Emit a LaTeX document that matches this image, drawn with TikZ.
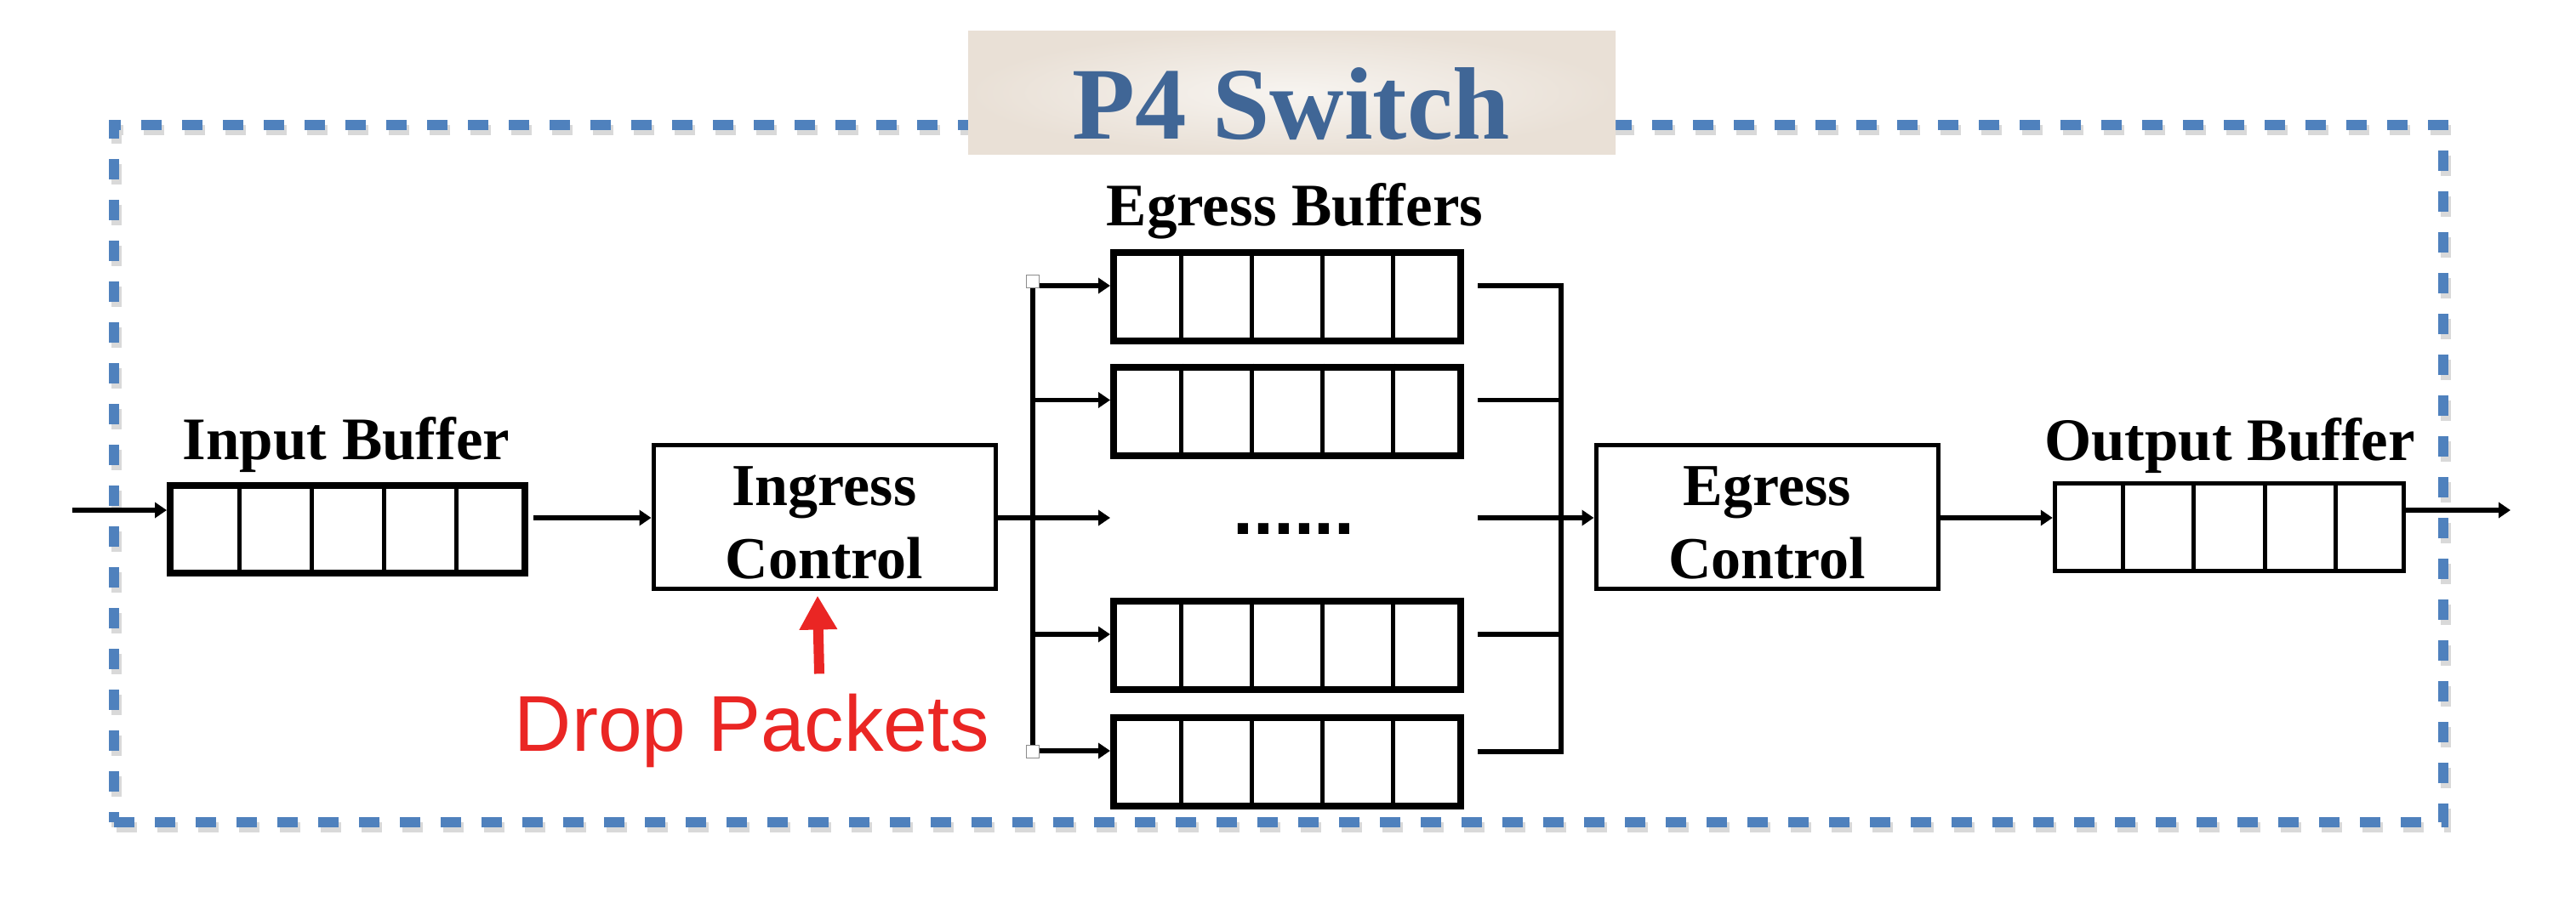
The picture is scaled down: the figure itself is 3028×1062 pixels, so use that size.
\documentclass[tikz,border=0pt]{standalone}
\usepackage{fontspec}
\setmainfont{Liberation Serif}
\newfontfamily\sansf{Liberation Sans}
\usetikzlibrary{calc,arrows.meta}
\definecolor{frameblue}{RGB}{79,129,189}
\definecolor{titleblue}{RGB}{64,102,150}
\definecolor{dropred}{RGB}{234,38,36}
\definecolor{parchin}{RGB}{247,244,240}
\definecolor{parchout}{RGB}{233,224,214}
\tikzset{
  conn/.style={line width=5.5pt, draw=black},
  arr/.style={conn, -{Triangle[length=14pt,width=18pt]}},
  thickbuf/.style={draw, line width=8pt, inner sep=0pt, minimum width=408pt, minimum height=104pt},
  thinbuf/.style={draw, line width=5.5pt, inner sep=0pt, minimum width=410pt, minimum height=103pt},
  ctrlbox/.style={draw, line width=5pt, inner sep=0pt, minimum width=402pt, minimum height=169pt},
  ctrltext/.style={align=center, inner sep=0pt, font=\fontsize{70}{86}\selectfont\bfseries},
  lbl/.style={font=\fontsize{71}{86}\selectfont\bfseries, anchor=base, inner sep=0pt},
  handle/.style={draw=black!45, fill=white, line width=1pt, minimum size=15pt, inner sep=0pt},
  framebox/.style={line width=12pt, dash pattern=on 24pt off 24pt, inner sep=0pt, minimum width=2738pt, minimum height=820pt},
  redarrow/.style={draw=dropred, line width=12pt, -{Triangle[length=40pt,width=42pt]}},
}
\newcommand\qcells[2]{\foreach \i in {1,...,4}{\draw[line width=#2] ($(#1.north west)!\i/5!(#1.north east)$) -- ($(#1.south west)!\i/5!(#1.south east)$);}}
\begin{document}
\begin{tikzpicture}[x=1pt,y=-1pt]
\useasboundingbox (0,0) rectangle (3028,1062);
% frame with soft shadow
\node[framebox, draw=black, opacity=0.15] (frameshadow) at (1506,563) {};
\node[framebox, draw=frameblue] (frame) at (1503,557) {};
% title
\node[minimum width=761pt, minimum height=144pt, inner sep=0pt, inner color=parchin, outer color=parchout, shade] (title) at (1518.5,109) {};
\node[anchor=base, inner sep=0pt, text=titleblue, font=\fontsize{121}{130}\selectfont\bfseries] (titletext) at (1518,164) {P4 Switch};
% labels
\node[lbl] (inlbl) at (407,540) {Input Buffer};
\node[lbl] (outlbl) at (2621,541) {Output Buffer};
\node[lbl] (eglbl) at (1522,265) {Egress Buffers};
% buffers
\node[thickbuf, minimum width=417pt, minimum height=103pt] (inbuf) at (408.5,622.5) {};
\qcells{inbuf}{5pt}
\node[thickbuf] (eb1) at (1513,349) {};
\node[thickbuf] (eb2) at (1513,483.5) {};
\node[thickbuf] (eb3) at (1513,759) {};
\node[thickbuf] (eb4) at (1513,896) {};
\foreach \b in {eb1,eb2,eb3,eb4}{\qcells{\b}{5pt}}
\node[thinbuf] (outbuf) at (2620.5,620) {};
\qcells{outbuf}{5pt}
\node[font=\sansf\bfseries\fontsize{86}{90}\selectfont, anchor=base, inner sep=0pt] (dots) at (1521,628) {......};
% control boxes
\node[ctrlbox] (ing) at (969,607.5) {};
\node[ctrltext] (ingtext) at ($(ing.center)+(0,7)$) {Ingress\\Control};
\node[ctrlbox] (egc) at (2077,607.5) {};
\node[ctrltext] (egctext) at ($(egc.center)+(0,7)$) {Egress\\Control};
% levels
\coordinate (mid) at (0,609);
\coordinate (src) at (85,600);
\coordinate (sink) at (2951,600);
\coordinate (bt) at (1214,331);
\coordinate (bb) at ($(eb4.west)+(-91,-12)$);
\coordinate (rbt) at ($(eb1.east)+(114,-13)$);
\coordinate (rbb) at ($(eb4.east)+(114,-12)$);
% connectors
\draw[arr] (src) -- (inbuf.west |- src);
\draw[arr] ($(inbuf.east |- mid)+(6,0)$) -- (ing.west |- mid);
\draw[arr] (ing.east |- mid) -- (eb1.west |- mid);
\draw[conn] (bt) -- (bb);
\foreach \b in {eb1,eb2,eb3,eb4}{\draw[arr] ($(bt |- \b.west)+(0,-13)$) -- ($(\b.west)+(0,-13)$);}
\draw[conn, line join=miter] ($(eb1.east)+(16,-13)$) -- (rbt) -- (rbb) -- ($(eb4.east)+(16,-12)$);
\foreach \b in {eb2,eb3}{\draw[conn] ($(\b.east)+(16,-13)$) -- ($(rbt |- \b.east)+(0,-13)$);}
\draw[arr] ($(eb1.east |- mid)+(16,0)$) -- (egc.west |- mid);
\draw[arr] (egc.east |- mid) -- (outbuf.west |- mid);
\draw[arr] (outbuf.east |- sink) -- (sink);
\node[handle] (h1) at (bt) {};
\node[handle] (h2) at (bb) {};
% drop packets
\node[font=\sansf\fontsize{93}{100}\selectfont, text=dropred, anchor=base, inner sep=0pt] (drop) at (884,883) {Drop Packets};
\draw[redarrow] ($(drop.north)+(79,-23)$) -- ($(ing.south)+(-8,6)$);
\end{tikzpicture}
\end{document}
